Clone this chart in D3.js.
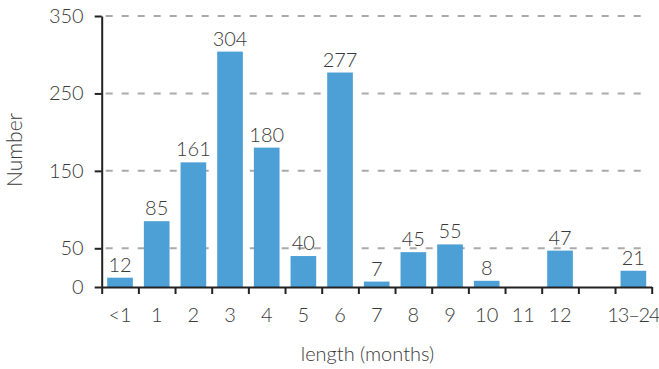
<!DOCTYPE html>
<html>
<head>
<meta charset="utf-8">
<script src="https://cdn.jsdelivr.net/npm/d3@7"></script>
<style>
  html, body { margin: 0; padding: 0; background: #fff; }
  svg { display: block; }
  text { font-family: "Lato", "Open Sans", sans-serif; font-weight: 300; fill: #3a3a3a; }
</style>
</head>
<body>
<svg id="chart" width="659" height="369"></svg>
<script>
// Length categories (months) and counts
const categories = ["<1", "1", "2", "3", "4", "5", "6", "7", "8", "9", "10", "11", "12", "13–24"];
const counts = [12, 85, 161, 304, 180, 40, 277, 7, 45, 55, 8, null, 47, 21];
const yTicks = [0, 50, 150, 250, 350];
const gridValues = [50, 150, 250, 350];

const svg = d3.select("#chart");
const plotLeft = 101.7, plotRight = 651.7, plotTop = 16, plotBottom = 287;

// an empty slot sits between "12" and "13–24"
const slots = [...categories.slice(0, 13), "__gap", categories[13]];

const x = d3.scaleBand()
  .domain(slots)
  .range([plotLeft, plotRight])
  .paddingInner(0.3)
  .paddingOuter(0.15);

const boundary = d3.scaleLinear().domain([0, slots.length]).range([plotLeft, plotRight]);

const y = d3.scaleLinear().domain([0, 350]).range([plotBottom, plotTop]);

// dashed gridlines
svg.append("g")
  .selectAll("line")
  .data(gridValues)
  .join("line")
  .attr("x1", plotLeft + 4)
  .attr("x2", plotRight - 4)
  .attr("y1", d => y(d))
  .attr("y2", d => y(d))
  .attr("stroke", "#aaaaaa")
  .attr("stroke-width", 2)
  .attr("stroke-dasharray", "7,9");

const data = categories.map((c, i) => ({ c, v: counts[i] })).filter(d => d.v != null);

// bars
svg.append("g")
  .selectAll("rect")
  .data(data)
  .join("rect")
  .attr("x", d => x(d.c))
  .attr("width", x.bandwidth())
  .attr("y", d => y(d.v))
  .attr("height", d => y(0) - y(d.v))
  .attr("fill", "#4da0d6");

// value labels
svg.append("g")
  .selectAll("text")
  .data(data)
  .join("text")
  .attr("x", d => x(d.c) + x.bandwidth() / 2)
  .attr("y", d => y(d.v) - 6)
  .attr("text-anchor", "middle")
  .style("font-size", "20px")
  .text(d => d.v);

// x axis: tick marks at slot boundaries
const xAxis = svg.append("g")
  .attr("transform", `translate(0,${plotBottom})`)
  .call(d3.axisBottom(boundary).tickValues(d3.range(slots.length + 1)).tickFormat("").tickSize(7).tickSizeOuter(0));
xAxis.select(".domain").attr("stroke", "#222").attr("stroke-width", 2);
xAxis.selectAll(".tick line").attr("stroke", "#222").attr("stroke-width", 2);

// x category labels
svg.append("g")
  .selectAll("text")
  .data(categories)
  .join("text")
  .attr("x", d => x(d) + x.bandwidth() / 2)
  .attr("y", 321.5)
  .attr("text-anchor", "middle")
  .style("font-size", "20px")
  .style("letter-spacing", d => d.length > 3 ? "-1.2px" : null)
  .text(d => d);

// y axis
const yAxis = svg.append("g")
  .attr("transform", `translate(${plotLeft},0)`)
  .call(d3.axisLeft(y).tickValues(yTicks).tickSize(7).tickSizeOuter(0).tickPadding(11));
yAxis.select(".domain").attr("stroke", "#222").attr("stroke-width", 2);
yAxis.selectAll(".tick line").attr("stroke", "#222").attr("stroke-width", 2);
yAxis.selectAll(".tick text")
  .style("font-family", "Lato, 'Open Sans', sans-serif")
  .style("font-weight", 300)
  .style("font-size", "20px")
  .attr("fill", "#3a3a3a");

// axis titles
svg.append("text")
  .attr("x", 367.5)
  .attr("y", 361)
  .attr("text-anchor", "middle")
  .style("font-size", "20px")
  .text("length (months)");

svg.append("text")
  .attr("transform", "translate(22,150) rotate(-90)")
  .attr("text-anchor", "middle")
  .style("font-size", "21px")
  .text("Number");
</script>
</body>
</html>
